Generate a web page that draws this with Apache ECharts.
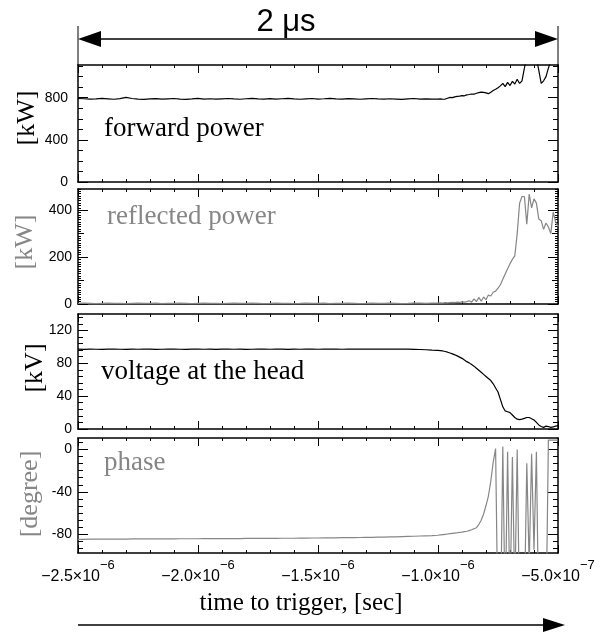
<!DOCTYPE html>
<html>
<head>
<meta charset="utf-8">
<script src="https://cdn.jsdelivr.net/npm/echarts@6/dist/echarts.min.js"></script>
<style>
html, body { margin: 0; padding: 0; background: #fff; }
#main { width: 615px; height: 635px; }
</style>
</head>
<body>
<div id="main"></div>
<script>
// time to trigger, in microseconds
var timeUs = [
  -2.5,-2.475,-2.45,-2.425,-2.4,-2.375,-2.35,-2.325,-2.3,-2.275,
  -2.25,-2.225,-2.2,-2.175,-2.15,-2.125,-2.1,-2.075,-2.05,-2.025,
  -2.0,-1.975,-1.95,-1.925,-1.9,-1.875,-1.85,-1.825,-1.8,-1.775,
  -1.75,-1.725,-1.7,-1.675,-1.65,-1.625,-1.6,-1.575,-1.55,-1.525,
  -1.5,-1.475,-1.45,-1.425,-1.4,-1.375,-1.35,-1.325,-1.3,-1.275,
  -1.25,-1.225,-1.2,-1.175,-1.15,-1.125,-1.1,-1.075,-1.05,-1.025,
  -1.0,
  -0.99,-0.98,-0.97,-0.96,-0.95,-0.94,-0.93,-0.92,-0.91,-0.9,
  -0.89,-0.88,-0.87,-0.86,-0.85,-0.84,-0.83,-0.82,-0.81,-0.8,
  -0.79,-0.78,-0.77,-0.76,-0.75,-0.74,-0.73,-0.72,-0.71,-0.7,
  -0.69,-0.68,-0.67,-0.66,-0.65,-0.64,-0.63,-0.62,-0.61,-0.6,
  -0.59,-0.58,-0.57,-0.56,-0.55,-0.54,-0.53,-0.52,-0.51,-0.5
];

// forward power [kW]
var forwardKW = [
  792,790,786,788,793,789,785,791,803,792,
  787,784,788,791,786,789,792,787,784,788,
  793,787,790,786,789,792,788,785,790,794,
  789,786,791,787,790,793,788,785,789,792,
  787,790,794,789,786,791,788,785,789,792,
  788,786,790,787,784,788,792,787,789,786,
  787,
  788,785,787,795,803,800,808,812,815,820,
  818,826,830,835,833,842,848,852,850,845,
  838,852,868,880,895,912,935,905,945,915,
  955,930,975,935,960,1080,1200,1260,1300,1280,
  1180,1060,935,960,1000,1080,1150,1240,1220,1260
];

// reflected power [kW]
var reflectedKW = [
  3,4,3,2,3,4,3,3,2,3,
  4,3,3,4,2,3,3,4,3,2,
  3,4,3,3,2,3,4,3,3,4,
  3,2,3,4,3,3,2,3,4,3,
  3,4,2,3,3,4,3,2,3,4,
  3,3,4,3,2,3,4,4,3,4,
  4,
  5,4,6,5,6,7,6,8,7,9,
  8,10,14,8,22,10,28,12,30,18,
  38,34,50,55,68,82,105,128,150,172,
  190,205,300,430,458,458,340,468,410,448,
  430,362,355,318,345,328,300,392,350,330
];

// voltage at the head [kV]
var voltageKV = [
  97.2,97.0,97.3,97.1,97.0,97.2,97.3,97.1,97.0,97.2,
  97.1,97.3,97.2,97.0,97.1,97.3,97.2,97.1,97.0,97.2,
  97.3,97.1,97.2,97.0,97.2,97.3,97.1,97.2,97.0,97.1,
  97.3,97.2,97.1,97.3,97.2,97.0,97.2,97.1,97.3,97.2,
  97.1,97.2,97.3,97.2,97.1,97.3,97.2,97.4,97.3,97.2,
  97.3,97.4,97.3,97.2,97.3,97.2,97.0,96.8,96.5,96.1,
  95.8,
  95.5,95.0,94.3,93.5,92.5,91.5,90.3,89.0,87.5,86.0,
  84.0,82.0,80.5,78.5,76.5,74.0,71.5,69.0,66.5,64.0,
  61.5,59.0,55.0,50.0,45.0,36.0,27.0,22.0,21.0,20.0,
  17.0,14.0,12.0,11.5,12.0,13.0,14.0,14.0,12.5,11.0,
  8.0,5.0,3.0,2.0,3.5,3.0,2.0,2.5,3.5,4.0
];

// phase [degree]
var phaseDeg = [
  -85.0,-85.0,-84.9,-84.9,-84.9,-84.8,-84.8,-84.8,-84.8,-84.7,
  -84.7,-84.7,-84.7,-84.6,-84.6,-84.6,-84.6,-84.5,-84.5,-84.5,
  -84.5,-84.4,-84.4,-84.4,-84.4,-84.3,-84.3,-84.3,-84.2,-84.2,
  -84.2,-84.1,-84.1,-84.1,-84.0,-84.0,-84.0,-83.9,-83.9,-83.8,
  -83.8,-83.7,-83.7,-83.6,-83.5,-83.4,-83.4,-83.3,-83.2,-83.1,
  -83.0,-82.9,-82.8,-82.7,-82.5,-82.3,-82.1,-81.9,-81.7,-81.5,
  -81.2,
  -80.9,-80.6,-80.3,-80.0,-79.7,-79.4,-79.1,-78.8,-78.5,-78.2,
  -77.8,-77.4,-76.8,-76.0,-75.0,-74.0,-71.0,-67.0,-61.0,-53.0,
  -44.0,-30.0,-12.0,1.0,-170.0,-175.0,3.0,-160.0,-2.0,-150.0,
  -7.0,-140.0,0.0,-160.0,-175.0,-150.0,-13.0,-110.0,-4.0,-95.0,
  -2.0,-170.0,-175.0,-170.0,-165.0,9.0,9.0,9.0,9.0,9.0
];

// tick labels
var xTicks = [-2.5e-6, -2.0e-6, -1.5e-6, -1.0e-6, -0.5e-6];
var fwdTicks = [0, 400, 800];
var refTicks = [0, 200, 400];
var voltTicks = [0, 40, 80, 120];
var phaseTicks = [-80, -40, 0];

var GRAY = '#868686';
var SANS = 'Liberation Sans';
var SERIF = 'Liberation Serif';
var LEFT = 78, WIDTH = 480;
var X_MIN = -2.5e-6, X_MAX = -0.5e-6;

var panels = [
  {top: 65,  height: 117, min: 0,   max: 1110, ticks: fwdTicks,   minor: 100,  minorLen: 5, mid: 0,   data: forwardKW,   color: '#000', margin: 10},
  {top: 189, height: 115, min: 0,   max: 490,  ticks: refTicks,   minor: 10,   minorLen: 3, mid: 100, data: reflectedKW, color: GRAY,   margin: 6},
  {top: 314, height: 115, min: 0,   max: 140,  ticks: voltTicks,  minor: 8,    minorLen: 5, mid: 0,   data: voltageKV,   color: '#000', margin: 6},
  {top: 438, height: 115, min: -98, max: 11,   ticks: phaseTicks, minor: 40/6, minorLen: 5, mid: 0,   data: phaseDeg,    color: GRAY,   margin: 6}
];

function steps(min, max, step) {
  var out = [];
  var k0 = Math.ceil(min / step - 1e-9), k1 = Math.floor(max / step + 1e-9);
  for (var k = k0; k <= k1; k++) out.push(Math.round(k * step * 1e12) / 1e12);
  return out;
}

function sci(v) {
  var e = Math.floor(Math.log10(Math.abs(v)) + 1e-6);
  var m = Math.abs(v) / Math.pow(10, e);
  return '{m|\u2212' + m.toFixed(1) + '\u00d710}{e|\u2212' + (-e) + '}';
}

var grids = [], xAxes = [], yAxes = [], series = [];

function tickAxis(base, vals, len, showLine) {
  return Object.assign({}, base, {
    axisLine: {show: true, onZero: false, lineStyle: {color: '#000', width: 1.5, opacity: showLine ? 1 : 0}},
    axisTick: vals ? {show: true, inside: true, length: len, customValues: vals, lineStyle: {color: '#000', width: 1, opacity: 1}} : {show: false},
    axisLabel: {show: false},
    splitLine: {show: false}
  });
}

// one overlapping grid per tick layer (major / minor / mid)
function addLayer(p, xVals, xLen, yVals, yLen, withLine) {
  var g = grids.length;
  grids.push({left: LEFT, width: WIDTH, top: p.top, height: p.height, outerBoundsMode: 'none'});
  var idx = {x: xAxes.length, y: yAxes.length};
  ['bottom', 'top'].forEach(function (pos) {
    xAxes.push(tickAxis({type: 'value', gridIndex: g, min: X_MIN, max: X_MAX, position: pos}, xVals, xLen, withLine));
  });
  ['left', 'right'].forEach(function (pos) {
    yAxes.push(tickAxis({type: 'value', gridIndex: g, min: p.min, max: p.max, position: pos}, yVals, yLen, withLine));
  });
  return idx;
}

var xMinor = steps(X_MIN, X_MAX, 1e-7);

panels.forEach(function (p, gi) {
  var main = addLayer(p, xTicks, 8, p.ticks, 10, true);
  addLayer(p, xMinor, 3, steps(p.min, p.max, p.minor), p.minorLen, false);
  if (p.mid) addLayer(p, null, 0, steps(p.min, p.max, p.mid), 6, false);

  yAxes[main.y].axisLabel = {show: true, customValues: p.ticks, margin: p.margin,
    fontFamily: SANS, fontSize: 14, color: '#000'};
  if (gi === 3) {
    xAxes[main.x].axisLabel = {
      show: true, customValues: xTicks, margin: 6, formatter: sci,
      rich: {
        m: {fontFamily: SANS, fontSize: 16, color: '#000', verticalAlign: 'bottom', lineHeight: 26},
        e: {fontFamily: SANS, fontSize: 13, color: '#000', verticalAlign: 'top', lineHeight: 26}
      }
    };
  }

  series.push({
    type: 'line',
    xAxisIndex: main.x,
    yAxisIndex: main.y,
    data: timeUs.map(function (t, i) { return [t * 1e-6, p.data[i]]; }),
    showSymbol: false,
    symbol: 'none',
    clip: true,
    lineStyle: {color: p.color, width: 1.2},
    animation: false
  });
});

function label(text, x, y, color) {
  return {type: 'text', x: x, y: y, style: {text: text, fill: color, font: '27px "' + SERIF + '"', verticalAlign: 'middle'}};
}
function yName(text, x, y, color) {
  return {type: 'text', x: x, y: y, rotation: Math.PI / 2,
    style: {text: text, fill: color, font: '26px "' + SERIF + '"', align: 'center', verticalAlign: 'middle'}};
}

var R = LEFT + WIDTH;
var graphics = [
  // 2 us span
  {type: 'line', shape: {x1: LEFT, y1: 26, x2: LEFT, y2: 65}, style: {stroke: '#000', lineWidth: 1}},
  {type: 'line', shape: {x1: R, y1: 26, x2: R, y2: 65}, style: {stroke: '#000', lineWidth: 1}},
  {type: 'line', shape: {x1: LEFT + 10, y1: 39, x2: R - 10, y2: 39}, style: {stroke: '#000', lineWidth: 1.5}},
  {type: 'polygon', shape: {points: [[LEFT, 39], [LEFT + 23, 31], [LEFT + 23, 47]]}, style: {fill: '#000'}},
  {type: 'polygon', shape: {points: [[R, 39], [R - 23, 31], [R - 23, 47]]}, style: {fill: '#000'}},
  {type: 'text', x: 286, y: 22, style: {text: '2 \u03bcs', fill: '#000', font: '31px "' + SANS + '"', align: 'center', verticalAlign: 'middle'}},
  // time axis arrow
  {type: 'text', x: 301, y: 603, style: {text: 'time to trigger, [sec]', fill: '#000', font: '25px "' + SERIF + '"', align: 'center', verticalAlign: 'middle'}},
  {type: 'line', shape: {x1: LEFT, y1: 625, x2: 548, y2: 625}, style: {stroke: '#000', lineWidth: 1.5}},
  {type: 'polygon', shape: {points: [[565, 625], [543, 618], [543, 632]]}, style: {fill: '#000'}},
  // panel labels
  label('forward power', 104, 129, '#000'),
  label('reflected power', 107, 217, GRAY),
  label('voltage at the head', 101, 372, '#000'),
  label('phase', 104, 463, GRAY),
  yName('[kW]', 27, 118, '#000'),
  yName('[kW]', 25, 242, GRAY),
  yName('[kV]', 35, 368, '#000'),
  yName('[degree]', 30, 494, GRAY)
];

var myChart = echarts.init(document.getElementById('main'));
var option = {
  backgroundColor: '#fff',
  animation: false,
  grid: grids,
  xAxis: xAxes,
  yAxis: yAxes,
  series: series,
  graphic: graphics
};
myChart.setOption(option);
</script>
</body>
</html>
